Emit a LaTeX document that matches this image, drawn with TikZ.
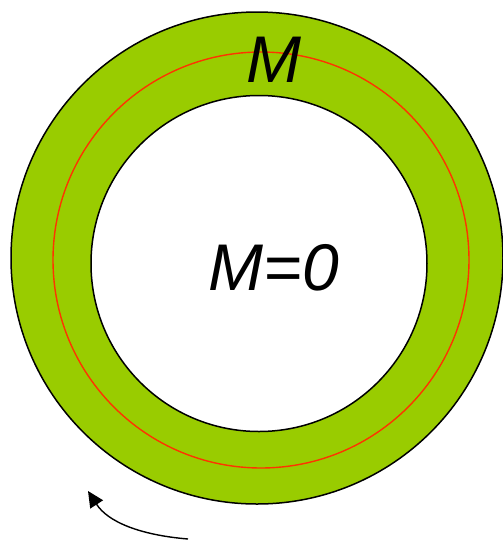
\documentclass[tikz,border=0pt]{standalone}
\usepackage{fontspec}
\setmainfont{Liberation Sans}
\usetikzlibrary{arrows.meta}
\definecolor{ringgreen}{HTML}{99CC00}
\definecolor{ringred}{HTML}{FF3300}
\begin{document}
\begin{tikzpicture}[x=1pt,y=-1pt,
  outline/.style={draw=black,line width=1.5pt},
  label/.style={font=\itshape\fontsize{66}{66}\selectfont,inner sep=0pt}]
\useasboundingbox (0,0) rectangle (503,542);
\fill[ringgreen,even odd rule] (257,258) circle[radius=246] (259,263.5) circle[radius=168];
\draw[outline] (257,258) circle[radius=246];
\draw[ringred,line width=1.4pt] (261,260) circle[radius=208];
\draw[outline] (259,263.5) circle[radius=168];
\node[label] (m) at (274,60) {M};
\node[label] (m0) at (274,268) {M=0};
\coordinate (a0) at (188,539);
\coordinate (a1) at (88,491);
\draw[line width=1.4pt,-{Triangle[length=16pt,width=15pt]}] (a0) .. controls (140,535) and (108,522) .. (a1);
\end{tikzpicture}
\end{document}
